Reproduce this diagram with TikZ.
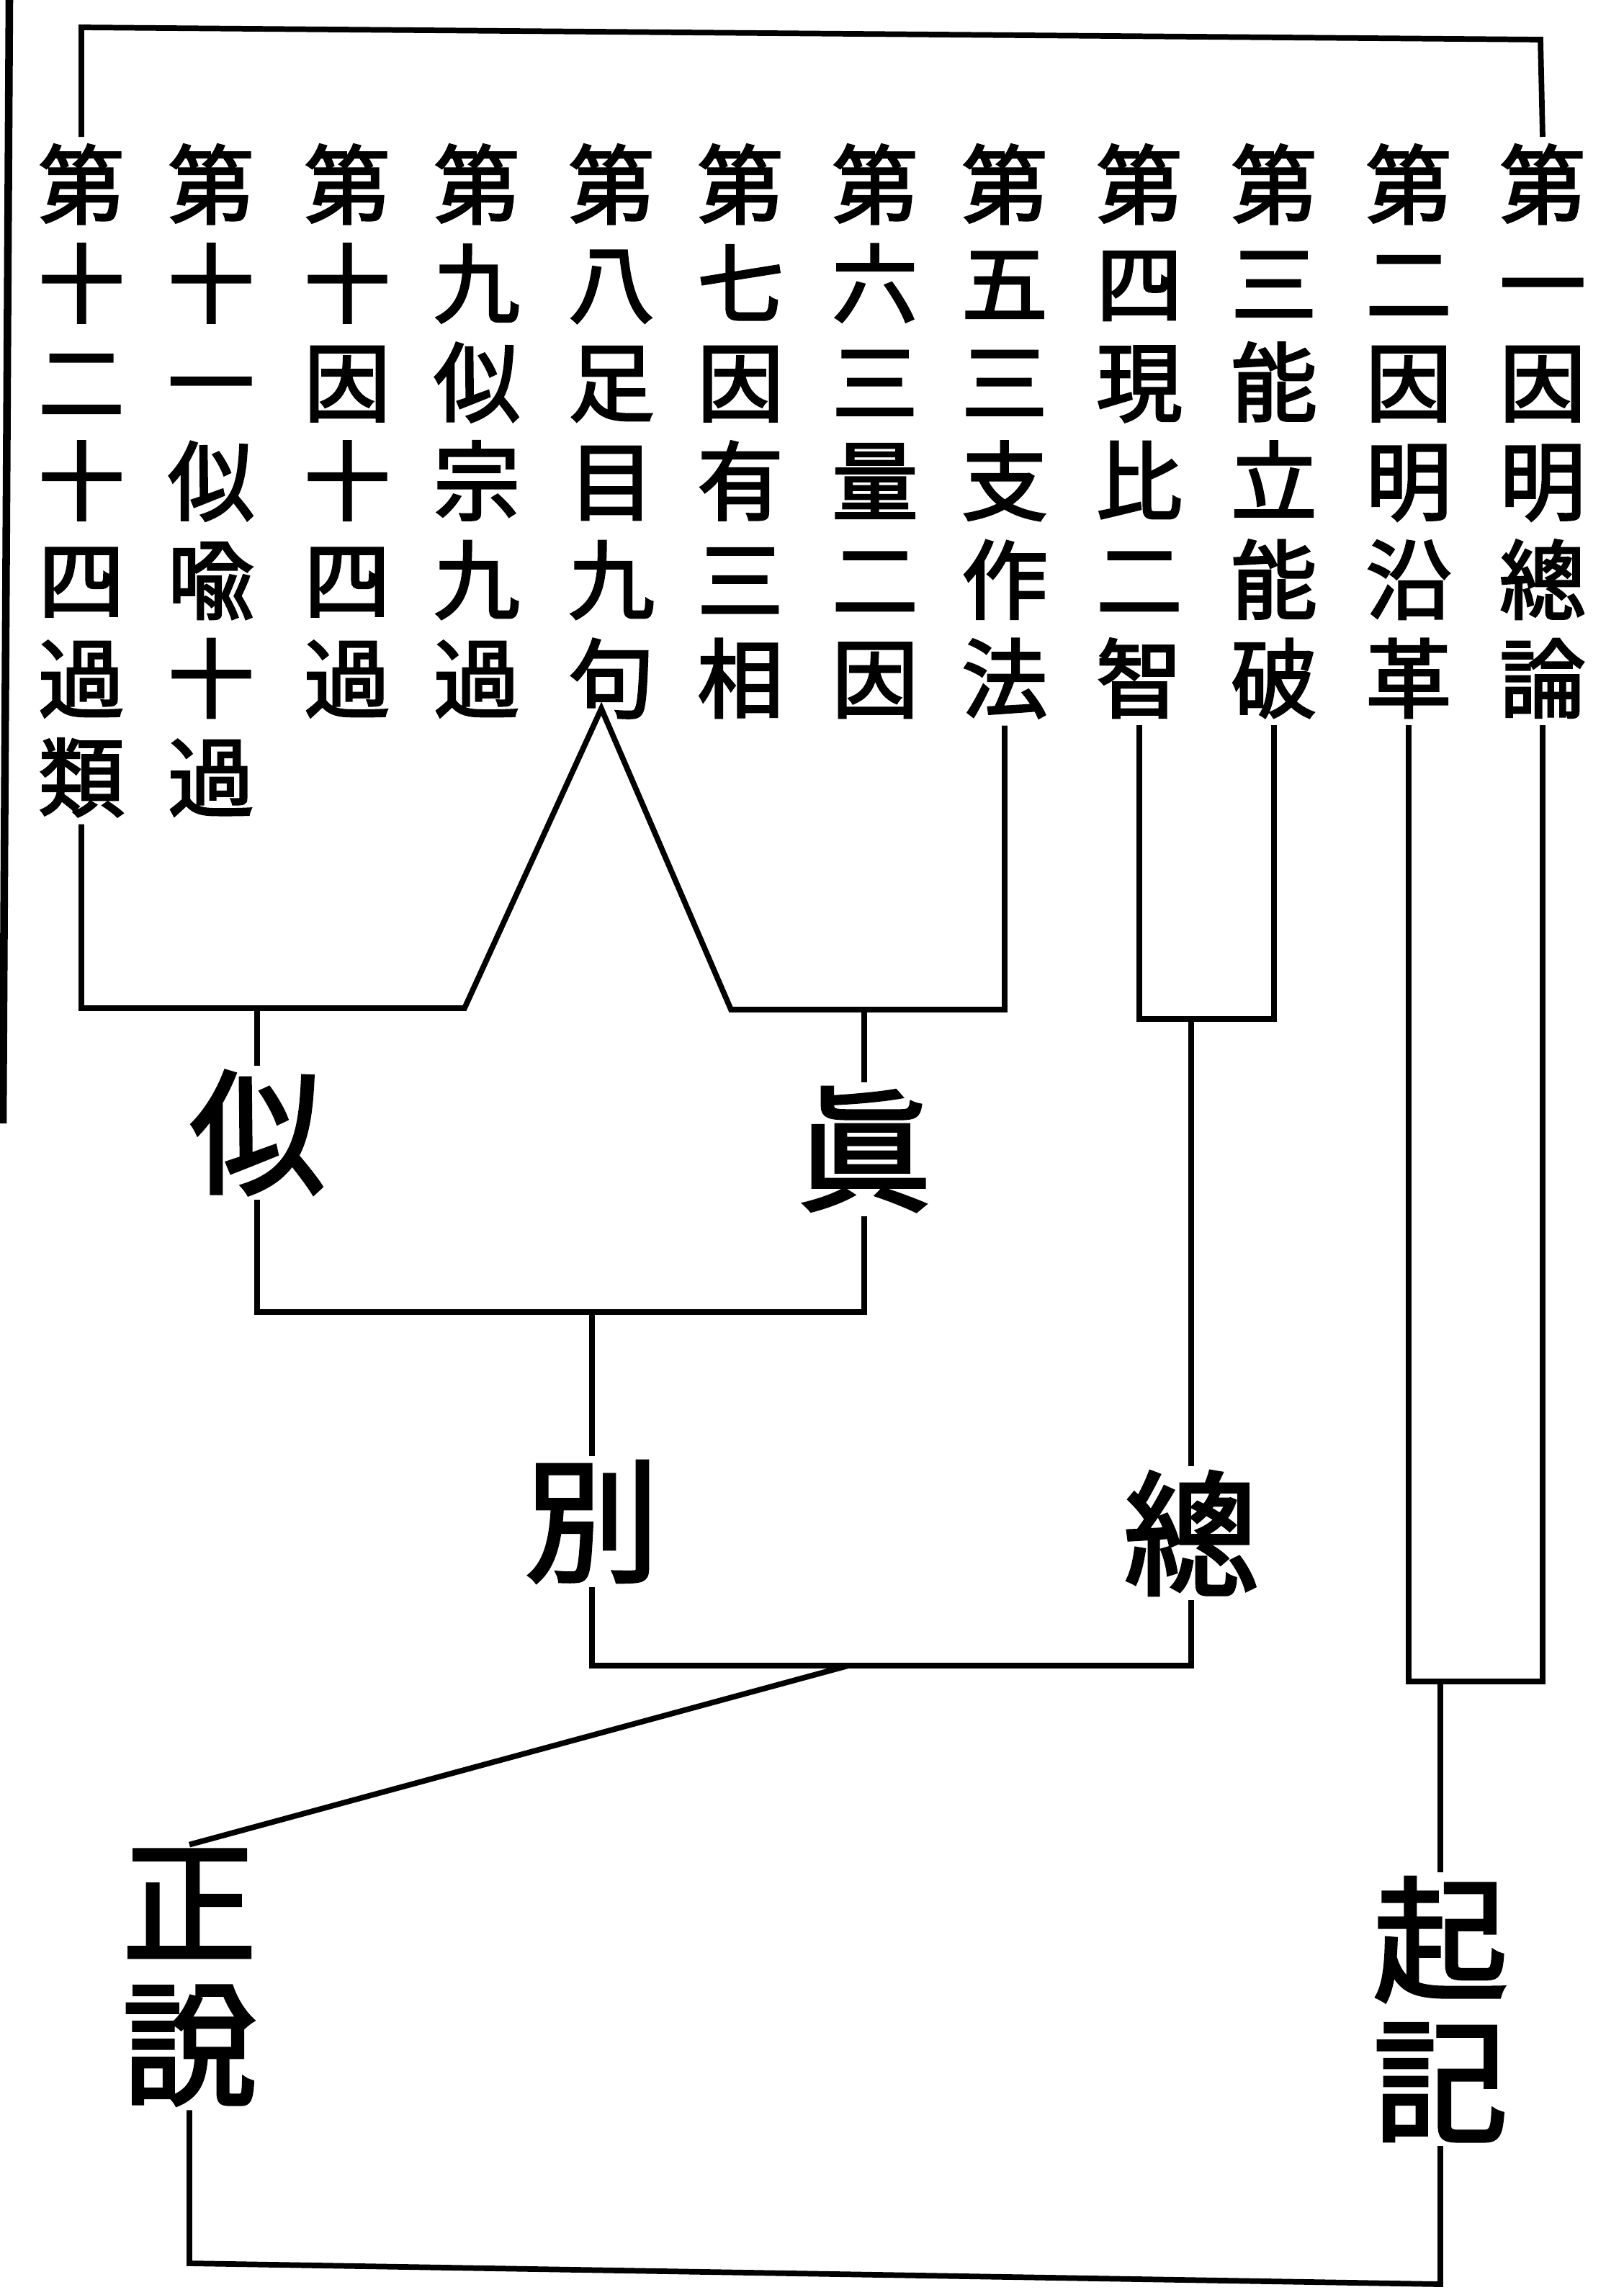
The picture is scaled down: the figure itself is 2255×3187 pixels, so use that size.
\documentclass[tikz,border=0pt]{standalone}
\usepackage{fontspec}
\newfontfamily\cjk{Noto Sans CJK JP}[FakeBold=2.5]
\usetikzlibrary{calc}

\tikzset{
    colnode/.style={font=\cjk\fontsize{34}{39}\selectfont, align=center, anchor=north,
        inner sep=0pt, outer sep=3pt},
    lblnode/.style={font=\cjk\fontsize{53}{56}\selectfont, align=center,
        inner sep=0pt, outer sep=2pt},
    wire/.style={line width=2.2pt, line join=miter},
}

\begin{document}
\begin{tikzpicture}[x=0.01cm, y=-0.01cm]
    \useasboundingbox (0,0) rectangle (2255,3187);

    % edge of the page
    \draw[line width=3pt] (13,0) -- (4,1560);

    % the twelve chapters
    \node[colnode] (c1) at (2142,190) {第\\一\\因\\明\\總\\論};
    \node[colnode] (c2) at (1956,190) {第\\二\\因\\明\\沿\\革};
    \node[colnode] (c3) at (1769,190) {第\\三\\能\\立\\能\\破};
    \node[colnode] (c4) at (1582,190) {第\\四\\現\\比\\二\\智};
    \node[colnode] (c5) at (1395,190) {第\\五\\三\\支\\作\\法};
    \node[colnode] (c6) at (1215,190) {第\\六\\三\\量\\二\\因};
    \node[colnode] (c7) at (1028,190) {第\\七\\因\\有\\三\\相};
    \node[colnode] (c8) at (849,190) {第\\八\\足\\目\\九\\句};
    \node[colnode] (c9) at (662,190) {第\\九\\似\\宗\\九\\過};
    \node[colnode] (c10) at (482,190) {第\\十\\因\\十\\四\\過};
    \node[colnode] (c11) at (293,190) {第\\十\\一\\似\\喩\\十\\過};
    \node[colnode] (c12) at (113,190) {第\\十\\二\\十\\四\\過\\類};

    % headings
    \node[lblnode] (si) at (357,1573) {似};
    \node[lblnode] (zhen) at (1200,1596) {眞};
    \node[lblnode] (bie) at (822,2113) {別};
    \node[lblnode] (zong) at (1654,2129) {總};
    \node[lblnode] (zheng) at (263,2746) {正\\說};
    \node[lblnode] (qi) at (2000,2790) {起\\記};

    \coordinate (tl) at (116,38);
    \coordinate (tr) at (2139,55);
    \coordinate (apex) at ($(c8.south)+(-14,-24)$);
    \coordinate (siL) at (645,1400);
    \coordinate (zhR) at (1015,1402);
    \coordinate (szB) at (822,1822);
    \coordinate (zpB) at (1654,1415);
    \coordinate (bzB) at (1178,2313);
    \coordinate (ygB) at (2005,2335);
    \coordinate (btL) at (266,3143);
    \coordinate (btR) at (2001,3172);

    % top bracket
    \draw[wire] (c12.north) -- (c12.north |- tl) -- (tr) -- (c1.north);

    % si / zhen
    \draw[wire] (c12.south) |- (siL) -- (apex) -- (zhR) -| (c5.south);
    \draw[wire] (si.north) -- (si.north |- siL);
    \draw[wire] (zhen.north) -- (zhen.north |- zhR);
    \draw[wire] (si.south) |- (zhen.south |- szB) -- (zhen.south);
    \draw[wire] (bie.north) -- (szB);

    % zong
    \draw[wire] (c4.south) |- (zpB) -| (c3.south);
    \draw[wire] (zong.north) -- (zpB);

    % bie / zong -> zheng shuo
    \draw[wire] (bie.south) |- (bzB) -| (zong.south);
    \draw[wire] (bzB) -- (zheng.north);

    % qi ji
    \draw[wire] (c2.south) |- (ygB) -| (c1.south);
    \draw[wire] (qi.north) -- (qi.north |- ygB);

    % bottom bracket
    \draw[wire] (zheng.south) -- (zheng.south |- btL) -- (qi.south |- btR) -- (qi.south);
\end{tikzpicture}
\end{document}
